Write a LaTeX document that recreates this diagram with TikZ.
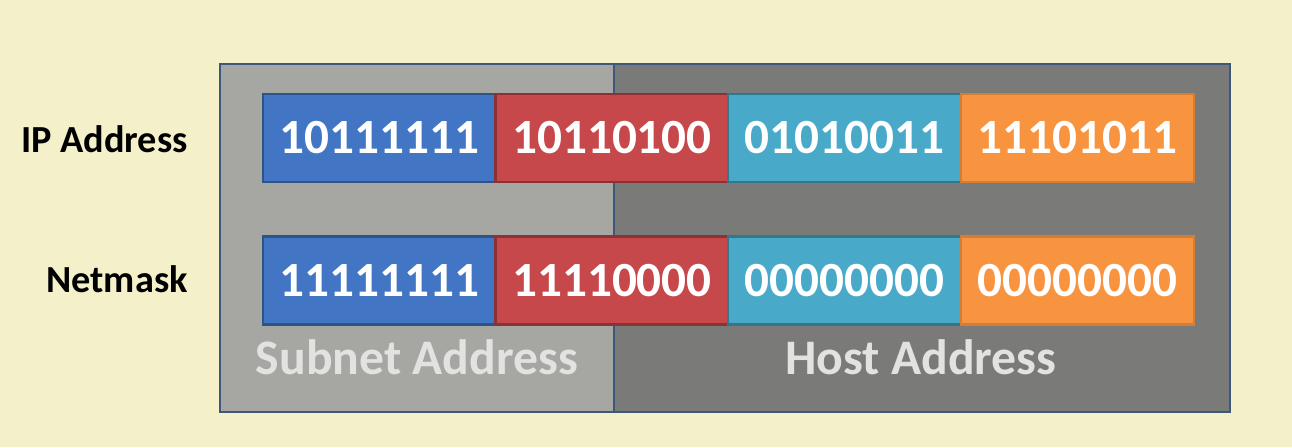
\documentclass[tikz,border=0pt]{standalone}
\usepackage{fontspec}
\setmainfont{Carlito}
\definecolor{bgc}{RGB}{244,240,202}
\definecolor{lightreg}{RGB}{166,166,163}
\definecolor{darkreg}{RGB}{122,122,120}
\definecolor{frame}{RGB}{62,88,124}
\definecolor{cblue}{RGB}{66,118,196}
\definecolor{cred}{RGB}{199,72,74}
\definecolor{ccyan}{RGB}{72,170,200}
\definecolor{corange}{RGB}{248,148,64}
\definecolor{lbltext}{RGB}{226,226,224}
\tikzset{
  cell/.style={minimum width=4.66cm, minimum height=1.76cm, inner sep=0pt,
    line width=1.2pt, text=white, font=\fontsize{28}{30}\selectfont\bfseries},
  rowlabel/.style={anchor=base east, inner sep=0pt, text=black,
    font=\fontsize{21.8}{24}\selectfont\bfseries},
  partlabel/.style={anchor=base, inner sep=0pt, text=lbltext,
    font=\fontsize{28.3}{30}\selectfont\bfseries}
}
\begin{document}
\begin{tikzpicture}[x=0.02cm, y=-0.02cm]
\useasboundingbox (0,0) rectangle (1292,447);
\fill[bgc] (0,0) rectangle (1292,447);
% regions
\fill[lightreg] (220,64) rectangle (614,412);
\fill[darkreg] (614,64) rectangle (1230,412);
\draw[frame, line width=1.4pt] (614,64) -- (614,412);
\draw[frame, line width=1.6pt] (220,64) rectangle (1230,412);
% row 1
\node[cell, fill=cblue, draw=cblue!70!black] (a1) at (379.5,138) {10111111};
\node[cell, fill=cred, draw=cred!70!black] (a2) at (612,138) {10110100};
\node[cell, fill=ccyan, draw=ccyan!70!black] (a3) at (844.5,138) {01010011};
\node[cell, fill=corange, draw=corange!85!black] (a4) at (1077.5,138) {11101011};
% row 2
\node[cell, fill=cblue, draw=cblue!70!black] (b1) at (379.5,280.5) {11111111};
\node[cell, fill=cred, draw=cred!70!black] (b2) at (612,280.5) {11110000};
\node[cell, fill=ccyan, draw=ccyan!70!black] (b3) at (844.5,280.5) {00000000};
\node[cell, fill=corange, draw=corange!85!black] (b4) at (1077.5,280.5) {00000000};
% labels
\node[rowlabel] (ip) at (188,152) {IP Address};
\node[rowlabel] (nm) at (188,292) {Netmask};
\node[partlabel] (sub) at (417,374) {Subnet Address};
\node[partlabel] (host) at (921,374) {Host Address};
\end{tikzpicture}
\end{document}
